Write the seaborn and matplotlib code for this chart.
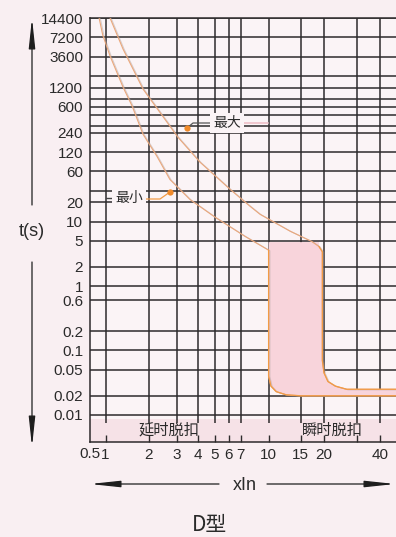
import numpy as np
import pandas as pd
import matplotlib
matplotlib.use("Agg")
import matplotlib.pyplot as plt
import matplotlib.patheffects as pe
from matplotlib.lines import Line2D
from matplotlib.patches import FancyArrowPatch
from matplotlib.ticker import NullLocator
from matplotlib.transforms import blended_transform_factory
import seaborn as sns

# ---------------- data ----------------
# time axis (seconds): labelled lines and the extra unlabelled grid lines
t_ticks = [14400, 7200, 3600, 1200, 600, 240, 120, 60, 20, 10, 5, 2, 1,
           0.6, 0.2, 0.1, 0.05, 0.02, 0.01]
t_tick_labels = ["14400", "7200", "3600", "1200", "600", "240", "120", "60",
                 "20", "10", "5", "2", "1", "0.6", "0.2", "0.1", "0.05",
                 "0.02", "0.01"]
t_extra_lines = [1800, 800, 450, 300, 30]

# current axis (multiples of In)
i_ticks = [1, 2, 3, 4, 5, 6, 7, 10, 15, 20, 30, 40]
i_tick_labels = ["1", "2", "3", "4", "5", "6", "7", "10", "15", "20", "", "40"]
i_origin_label = "0.5"

# upper limit of the tripping band ("最大")
max_i = [1.08, 1.34, 1.83, 2.60, 3.03, 4.10, 6.09, 7.89, 8.96, 13.1, 17.2,
         18.8, 19.6, 19.6, 20.0, 21.0, 23.0, 26.5, 48.5]
max_t = [14400, 4760, 1140, 349, 204, 83.5, 31.8, 17.3, 13.0, 7.1, 4.9,
         4.1, 3.4, 0.07, 0.045, 0.033, 0.028, 0.025, 0.025]

# lower limit of the tripping band ("最小")
min_i = [0.89, 0.95, 1.08, 1.34, 1.55, 1.83, 2.25, 2.71, 3.58, 5.01, 7.40,
         10.0, 10.0, 10.3, 11.0, 12.5, 15.0, 48.5]
min_t = [14400, 7850, 3706, 1222, 619, 227, 103, 45, 22, 11.7, 5.9,
         3.6, 0.04, 0.028, 0.023, 0.0205, 0.0198, 0.0198]

# instantaneous zone: top of the shaded block (s)
zone_top = 4.8

# ---------------- style ----------------
BG = "#f9eff2"
AX_BG = "#fbf4f6"
GRID = "#2e2b2c"
CURVE = "#eaa77a"
EDGE = "#f29b45"
ZONE = "#f8d4db"
TXT = "#2a2a2a"

sns.set_theme(style="white")
NUM_FONT = ["Liberation Sans Narrow", "Liberation Sans", "DejaVu Sans"]
CJK_FONT = ["Noto Sans CJK SC", "DejaVu Sans"]
plt.rcParams["font.family"] = NUM_FONT

W, H = 396, 537
fig = plt.figure(figsize=(W / 100, H / 100), dpi=100, facecolor=BG)
ax = fig.add_axes([90 / W, 1 - 442 / H, 306 / W, 424 / H])
ax.set_facecolor(AX_BG)


def fwd(x):
    return np.log10(np.clip(np.asarray(x, float) + 0.45, 1e-9, None))


def inv(y):
    return 10 ** np.asarray(y, float) - 0.45


ax.set_xscale("function", functions=(fwd, inv))
ax.set_yscale("log")
X_MIN, X_MAX = 0.75, 48.5
T_MIN, T_MAX = 0.0038, 14400
ax.set_xlim(X_MIN, X_MAX)
ax.set_ylim(T_MIN, T_MAX)

# bottom strip that carries the zone names
ax.axhspan(T_MIN, 0.0085, color="#f6e2e7", lw=0, zorder=0.5)

# grid
ax.hlines(t_ticks + t_extra_lines, X_MIN, X_MAX, colors=GRID, lw=1.1, zorder=1)
ax.vlines(i_ticks, 0.0075, T_MAX, colors=GRID, lw=1.1, zorder=1)

# shaded instantaneous-trip block between the two limits
lo = [(i, t) for i, t in zip(min_i, min_t) if t < zone_top]
hi = [(i, t) for i, t in zip(max_i, max_t) if t < zone_top]
poly = [(lo[0][0], zone_top)] + lo + hi[::-1] + [(hi[0][0], zone_top)]
ax.fill([p[0] for p in poly], [p[1] for p in poly], color=ZONE, lw=0, zorder=2)

# the two characteristic curves
curves = pd.concat([
    pd.DataFrame({"I": max_i, "t": max_t, "limit": "max"}),
    pd.DataFrame({"I": min_i, "t": min_t, "limit": "min"}),
])
shadow = [pe.SimpleLineShadow(offset=(0.9, -0.4), shadow_color="#a89c9c", alpha=0.45),
          pe.Normal()]
for name, grp in curves.groupby("limit"):
    sns.lineplot(data=grp, x="I", y="t", sort=False, estimator=None, ax=ax,
                 color=CURVE, lw=0.8, zorder=3, path_effects=shadow)
    # brighter outline where the curve borders the instantaneous block
    low = grp[grp["t"] < zone_top]
    ax.plot(low["I"], low["t"], color=EDGE, lw=0.9, zorder=3.5)

# curve labels with pointers (figure pixel layout)
def fig_line(xs, ys, **kw):
    fig.add_artist(Line2D(xs, [H - y for y in ys], transform=None, **kw))


fig_line([212, 193, 187], [123, 123, 128], color="#555", lw=0.9)
fig_line([242, 268], [123, 123], color="#f1c4cb", lw=1.3)
fig_line([145, 160, 170], [199, 199, 192], color=EDGE, lw=0.9)
fig_line([106, 114], [198, 198], color="#444", lw=1.0)
fig_line([187], [128], marker="o", ms=4.5, color="#f08a2a", mec="none")
fig_line([170], [192], marker="o", ms=4.5, color="#f08a2a", mec="none")
box = dict(boxstyle="square,pad=0.2", fc=AX_BG, ec="none")
fig.text(227 / W, 1 - 123 / H, "最大", ha="center", va="center", fontsize=10,
         family=CJK_FONT, color=TXT, bbox=box, zorder=5)
fig.text(129 / W, 1 - 198 / H, "最小", ha="center", va="center", fontsize=10,
         family=CJK_FONT, color=TXT, bbox=box, zorder=5)

# zone names in the bottom strip
bt = blended_transform_factory(ax.transData, ax.transAxes)
ax.text(2.67, 0.028, "延时脱扣", transform=bt, ha="center", va="center",
        fontsize=11, family=CJK_FONT, color=TXT, zorder=5)
ax.text(22.3, 0.028, "瞬时脱扣", transform=bt, ha="center", va="center",
        fontsize=11, family=CJK_FONT, color=TXT, zorder=5)

# ticks and spines
ax.set_yticks(t_ticks)
ax.set_yticklabels(t_tick_labels)
ax.set_xticks(i_ticks)
ax.set_xticklabels(i_tick_labels)
ax.xaxis.set_minor_locator(NullLocator())
ax.yaxis.set_minor_locator(NullLocator())
ax.tick_params(axis="y", length=0, pad=5, labelsize=11, labelcolor=TXT)
ax.tick_params(axis="x", direction="in", length=5, width=1.0, color=GRID,
               pad=4, labelsize=11, labelcolor=TXT, bottom=True)
ax.text(0, -0.012, i_origin_label, transform=ax.transAxes, ha="center",
        va="top", fontsize=11, color=TXT)
ax.set_xlabel("")
ax.set_ylabel("")
ax.spines["right"].set_visible(False)
for s in ["left", "bottom", "top"]:
    ax.spines[s].set_color(GRID)
    ax.spines[s].set_linewidth(1.1)

# axis titles with arrows
arrow = dict(arrowstyle="-|>,head_length=1.5,head_width=0.16", color="#1e1e1e",
             lw=0.9, mutation_scale=12, shrinkA=0, shrinkB=0)
for tip, tail in [((32, H - 18), (32, H - 205)), ((32, H - 447), (32, H - 262)),
                  ((90, H - 484), (219, H - 484)), ((395, H - 484), (267, H - 484))]:
    fig.add_artist(FancyArrowPatch(tail, tip, transform=None, **arrow))
fig.text(32 / W, 1 - 232 / H, "t(s)", ha="center", va="center", fontsize=13,
         family=["Liberation Sans", "DejaVu Sans"], color=TXT)
fig.text(245 / W, 1 - 485 / H, "xIn", ha="center", va="center", fontsize=13,
         family=["Liberation Sans", "DejaVu Sans"], color=TXT)
fig.text(209 / W, 1 - 525 / H, "D型", ha="center", va="center", fontsize=15,
         family=CJK_FONT, color=TXT)

fig.savefig("out.png", dpi=100, facecolor=BG)
